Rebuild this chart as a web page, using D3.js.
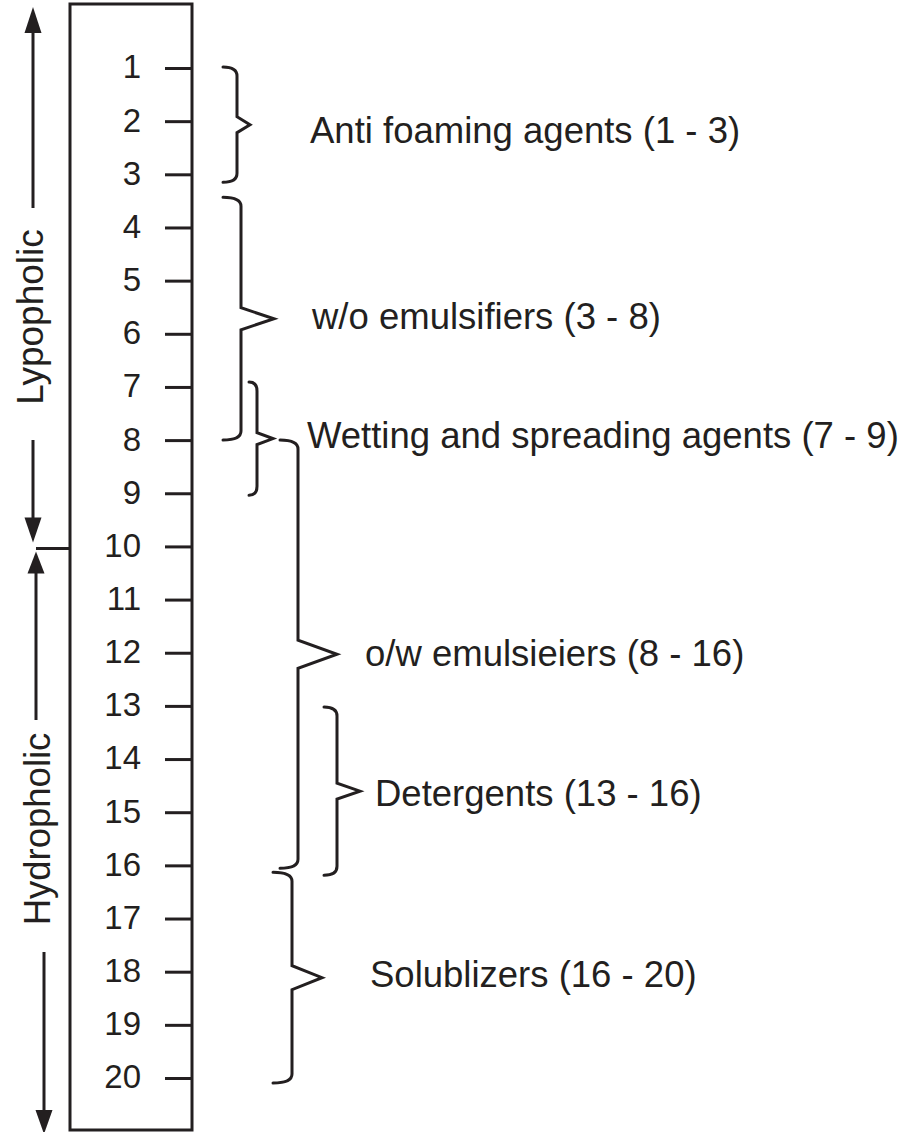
<!DOCTYPE html>
<html>
<head>
<meta charset="utf-8">
<script src="https://cdn.jsdelivr.net/npm/d3@7"></script>
<style>
  html, body { margin: 0; padding: 0; background: #fff; }
  svg { display: block; }
  text { font-family: "Liberation Sans", Arial, Helvetica, sans-serif; fill: #231f20; }
</style>
</head>
<body>
<svg id="chart" width="902" height="1132"></svg>
<script>
// ---------------- DATA ----------------
const hlbTicks = [1, 2, 3, 4, 5, 6, 7, 8, 9, 10, 11, 12, 13, 14, 15, 16, 17, 18, 19, 20];
const groupNames = [
  "Anti foaming agents (1 - 3)",
  "w/o emulsifiers (3 - 8)",
  "Wetting and spreading agents (7 - 9)",
  "o/w emulsieiers (8 - 16)",
  "Detergents (13 - 16)",
  "Solublizers (16 - 20)"
];
const groupLow  = [1, 3, 7, 8, 13, 16];
const groupHigh = [3, 8, 9, 16, 16, 20];
const sideLabels = ["Lypopholic", "Hydropholic"];
const boundaryHLB = 10;

// ---------------- LAYOUT (style only) ----------------
const braceLayout = [
  { x: 237, hook: 14, tipW: 13, tipH: 16, padTop: -1, padBot: 8,  textX: 310, textDy: 18 },
  { x: 241, hook: 18, tipW: 33, tipH: 22, padTop: 23, padBot: 0,  textX: 312, textDy: 10 },
  { x: 257, hook: 8,  tipW: 16, tipH: 12, padTop: -5, padBot: 2,  textX: 307, textDy: 9 },
  { x: 298, hook: 18, tipW: 39, tipH: 28, padTop: 0,  padBot: 3,  textX: 365, textDy: 12 },
  { x: 337, hook: 13, tipW: 23, tipH: 16, padTop: 1,  padBot: 10, textX: 375, textDy: 15 },
  { x: 292, hook: 19, tipW: 30, tipH: 24, padTop: 7,  padBot: 5,  textX: 370, textDy: 9 }
];
const ink = "#231f20";

const svg = d3.select("#chart");
const y = d3.scaleLinear().domain([1, 20]).range([68, 1078]);

// Box
svg.append("rect")
  .attr("x", 70).attr("y", 4)
  .attr("width", 122).attr("height", 1126)
  .attr("fill", "none").attr("stroke", ink).attr("stroke-width", 3);

// Axis (ticks inside box, labels left)
const axis = d3.axisLeft(y)
  .tickValues(hlbTicks)
  .tickFormat(d3.format("d"))
  .tickSize(27)
  .tickPadding(24);
const gAxis = svg.append("g").attr("transform", "translate(192,0)").call(axis);
gAxis.select(".domain").remove();
gAxis.selectAll(".tick line").attr("stroke", ink).attr("stroke-width", 3);
gAxis.selectAll(".tick text")
  .attr("font-size", 33)
  .attr("font-family", '"Liberation Sans", Arial, sans-serif')
  .attr("fill", ink)
  .attr("dy", "0.3em");

// Braces
function bracePath(x, top, bot, hook, tipW, tipH) {
  const mid = (top + bot) / 2;
  const r = Math.min(9, (bot - top) / 6);
  const p = d3.path();
  p.moveTo(x - hook, top);
  p.quadraticCurveTo(x, top, x, top + r);
  p.lineTo(x, mid - tipH / 2);
  p.lineTo(x + tipW, mid);
  p.lineTo(x, mid + tipH / 2);
  p.lineTo(x, bot - r);
  p.quadraticCurveTo(x, bot, x - hook, bot);
  return p.toString();
}

const groups = groupNames.map((name, i) => ({
  name, lo: groupLow[i], hi: groupHigh[i], L: braceLayout[i]
}));

const gB = svg.append("g");
groups.forEach(g => {
  const top = y(g.lo) + g.L.padTop;
  const bot = y(g.hi) + g.L.padBot;
  gB.append("path")
    .attr("d", bracePath(g.L.x, top, bot, g.L.hook, g.L.tipW, g.L.tipH))
    .attr("fill", "none").attr("stroke", ink)
    .attr("stroke-width", 3).attr("stroke-linejoin", "miter")
    .attr("stroke-linecap", "round");
  gB.append("text")
    .attr("x", g.L.textX)
    .attr("y", (top + bot) / 2 + g.L.textDy)
    .attr("font-size", 36.5)
    .text(g.name);
});

// Side arrows and labels
const yb = y(boundaryHLB);
function arrowHead(g, x, tipY, dir, w, h) {
  // dir = -1 pointing up, +1 pointing down
  g.append("path")
    .attr("d", `M${x},${tipY} L${x - w / 2},${tipY - dir * h} L${x + w / 2},${tipY - dir * h} Z`)
    .attr("fill", ink);
}
function vline(g, x, y1, y2) {
  g.append("line").attr("x1", x).attr("x2", x).attr("y1", y1).attr("y2", y2)
    .attr("stroke", ink).attr("stroke-width", 3);
}
const gS = svg.append("g");
// Lypophilic: up arrow
vline(gS, 33, 208, 20);
arrowHead(gS, 33, 7, -1, 17, 26);
// Lypophilic: down arrow to boundary
vline(gS, 33, 440, yb - 15);
arrowHead(gS, 33, yb - 4, 1, 17, 25);
// boundary line
gS.append("line").attr("x1", 36).attr("x2", 70).attr("y1", yb + 2).attr("y2", yb + 2)
  .attr("stroke", ink).attr("stroke-width", 3);
// Hydrophilic: up arrow from boundary
arrowHead(gS, 36, yb + 5, -1, 17, 22);
vline(gS, 36, yb + 20, 720);
// Hydrophilic: down arrow
vline(gS, 44, 952, 1115);
arrowHead(gS, 44, 1134, 1, 17, 24);

gS.append("text")
  .attr("transform", "translate(43,317) rotate(-90)")
  .attr("text-anchor", "middle")
  .attr("font-size", 37)
  .text(sideLabels[0]);
gS.append("text")
  .attr("transform", "translate(50,829) rotate(-90)")
  .attr("text-anchor", "middle")
  .attr("font-size", 36.5)
  .text(sideLabels[1]);
</script>
</body>
</html>
